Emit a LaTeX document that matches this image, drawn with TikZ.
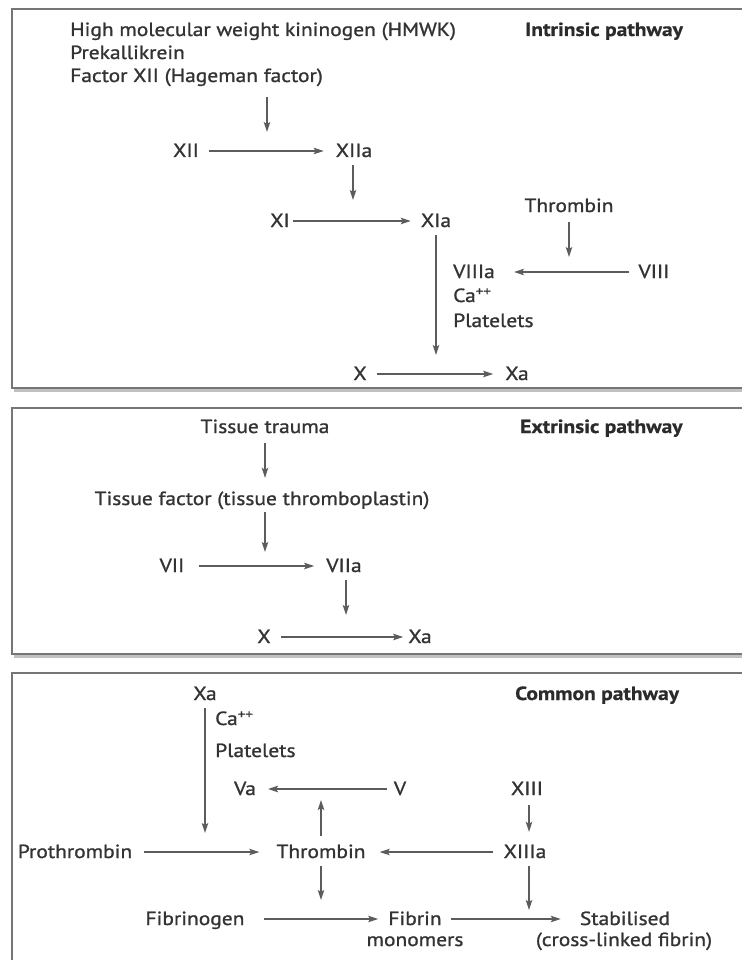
\documentclass[tikz,border=0pt]{standalone}
\usepackage{fontspec}
\setmainfont{PT Sans}[FakeStretch=1.13,
  UprightFeatures={FakeBold=1.1},
  BoldFeatures={FakeBold=0.6}]
\usetikzlibrary{arrows.meta}
\definecolor{ink}{HTML}{333333}
\definecolor{rule}{HTML}{767676}
\begin{document}
\begin{tikzpicture}[x=1pt,y=-1pt,
  lbl/.style={inner sep=0pt, text height=14pt, text depth=2pt,
    font=\fontsize{19}{22}\selectfont, text=ink},
  ttl/.style={lbl, font=\fontsize{19}{22}\selectfont\bfseries, text=ink!85!black},
  arr/.style={draw=ink!80, line width=1.1pt, -{Stealth[length=10pt,width=6.5pt,inset=2pt]}},
  panel/.style={draw=rule, line width=1.4pt},
  shade/.style={draw=rule!45, line width=2.4pt}]
\useasboundingbox[fill=white] (0,0) rectangle (741,960);

% ---- panel frames (open to the right) ----
\draw[panel] (760,9) -- (12,9) -- (12,388) -- (760,388);
\draw[shade] (14,390.5) -- (760,390.5);
\draw[panel] (760,408) -- (12,408) -- (12,654) -- (760,654);
\draw[shade] (14,656.5) -- (760,656.5);
\draw[panel] (760,673) -- (12,673) -- (12,970);

% ---- intrinsic pathway ----
\node[lbl, anchor=base west] (hmwk) at (70,36) {High molecular weight kininogen (HMWK)};
\node[lbl, anchor=base west] (prek) at (70,59) {Prekallikrein};
\node[lbl, anchor=base west] (fxii) at (70,82) {Factor XII (Hageman factor)};
\node[ttl, anchor=base west] (intr) at (525,36) {Intrinsic pathway};
\node[lbl, anchor=base] (XII) at (186,157) {XII};
\node[lbl, anchor=base] (XIIa) at (354,157) {XIIa};
\node[lbl, anchor=base] (XI) at (280,227) {XI};
\node[lbl, anchor=base] (XIa) at (436,227) {XIa};
\node[lbl, anchor=base] (thrA) at (569,212) {Thrombin};
\node[lbl, anchor=base west] (VIIIa) at (453,278) {VIIIa};
\node[lbl, anchor=base] (VIII) at (654,278) {VIII};
\node[lbl, anchor=base west] (caA) at (453,302) {Ca\textsuperscript{++}};
\node[lbl, anchor=base west] (pltA) at (453,327) {Platelets};
\node[lbl, anchor=base] (XA) at (360,380) {X};
\node[lbl, anchor=base] (XaA) at (517,380) {Xa};

\coordinate (m1) at (267,132);
\coordinate (m2) at (353,200);
\coordinate (m3) at (569,257);
\coordinate (m4) at (436,355);

\draw[arr, shorten <=13pt] (fxii.south -| m1) -- (m1);
\draw[arr, shorten <=10pt, shorten >=12pt] (XII.east) -- (XIIa.west);
\draw[arr, shorten <=6pt] (XIIa.south -| m2) -- (m2);
\draw[arr, shorten <=3pt, shorten >=10pt] (XI.east) -- (XIa.west);
\draw[arr, shorten <=8pt] (thrA.south -| m3) -- (m3);
\draw[arr, shorten <=9pt, shorten >=19pt] (VIII.west) -- (VIIIa.east);
\draw[arr, shorten <=6pt] (XIa.south -| m4) -- (m4);
\draw[arr, shorten <=10pt, shorten >=12pt] (XA.east) -- (XaA.west);

% ---- extrinsic pathway ----
\node[lbl, anchor=base] (trauma) at (265,433) {Tissue trauma};
\node[ttl, anchor=base west] (extr) at (520,433) {Extrinsic pathway};
\node[lbl, anchor=base] (tfac) at (262,505) {Tissue factor (tissue thromboplastin)};
\node[lbl, anchor=base] (VII) at (172,572) {VII};
\node[lbl, anchor=base] (VIIa) at (344,572) {VIIa};
\node[lbl, anchor=base] (XB) at (264,643) {X};
\node[lbl, anchor=base] (XaB) at (420,643) {Xa};

\coordinate (m6) at (265,552);
\coordinate (m7) at (346,615);

\draw[arr, shorten <=8pt, shorten >=13pt] (trauma.south) -- (trauma.south |- tfac.north);
\draw[arr, shorten <=5pt] (tfac.south -| m6) -- (m6);
\draw[arr, shorten <=14pt, shorten >=12pt] (VII.east) -- (VIIa.west);
\draw[arr, shorten <=6pt] (VIIa.south -| m7) -- (m7);
\draw[arr, shorten <=10pt, shorten >=5pt] (XB.east) -- (XaB.west);

% ---- common pathway ----
\node[lbl, anchor=base] (XaC) at (205,700) {Xa};
\node[ttl, anchor=base west] (comm) at (515,700) {Common pathway};
\node[lbl, anchor=base west] (caC) at (215,725) {Ca\textsuperscript{++}};
\node[lbl, anchor=base west] (pltC) at (215,757) {Platelets};
\node[lbl, anchor=base] (Va) at (245,795) {Va};
\node[lbl, anchor=base] (V) at (400,795) {V};
\node[lbl, anchor=base] (XIII) at (527,795) {XIII};
\node[lbl, anchor=base] (proth) at (75,858) {Prothrombin};
\node[lbl, anchor=base] (thrC) at (321,858) {Thrombin};
\node[lbl, anchor=base] (XIIIa) at (525,858) {XIIIa};
\node[lbl, anchor=base] (fibg) at (195,925) {Fibrinogen};
\node[lbl, anchor=base] (fibr) at (415,925) {Fibrin};
\node[lbl, anchor=base] (mono) at (415,946) {monomers};
\node[lbl, anchor=base] (stab) at (625,925) {Stabilised};
\node[lbl, anchor=base] (xlink) at (624,946) {(cross-linked fibrin)};

\coordinate (m8) at (205,833);
\coordinate (m9) at (321,800);
\coordinate (m10) at (321,900);
\coordinate (m12) at (529,910);

\draw[arr, shorten <=6pt] (XaC.south) -- (m8);
\draw[arr, shorten <=7pt, shorten >=12pt] (V.west) -- (Va.east);
\draw[arr, shorten <=8pt] (thrC.north) -- (m9);
\draw[arr, shorten <=8pt, shorten >=12pt] (XIII.south -| m12) -- (XIIIa.north -| m12);
\draw[arr, shorten <=12pt, shorten >=17pt] (proth.east) -- (thrC.west);
\draw[arr, shorten <=10pt, shorten >=14pt] (XIIIa.west) -- (thrC.east);
\draw[arr, shorten <=6pt] (thrC.south) -- (m10);
\draw[arr, shorten <=6pt] (XIIIa.south -| m12) -- (m12);
\draw[arr, shorten <=19pt, shorten >=10pt] (fibg.east) -- (fibr.west);
\draw[arr, shorten <=9pt, shorten >=19pt] (fibr.east) -- (stab.west);
\end{tikzpicture}
\end{document}
